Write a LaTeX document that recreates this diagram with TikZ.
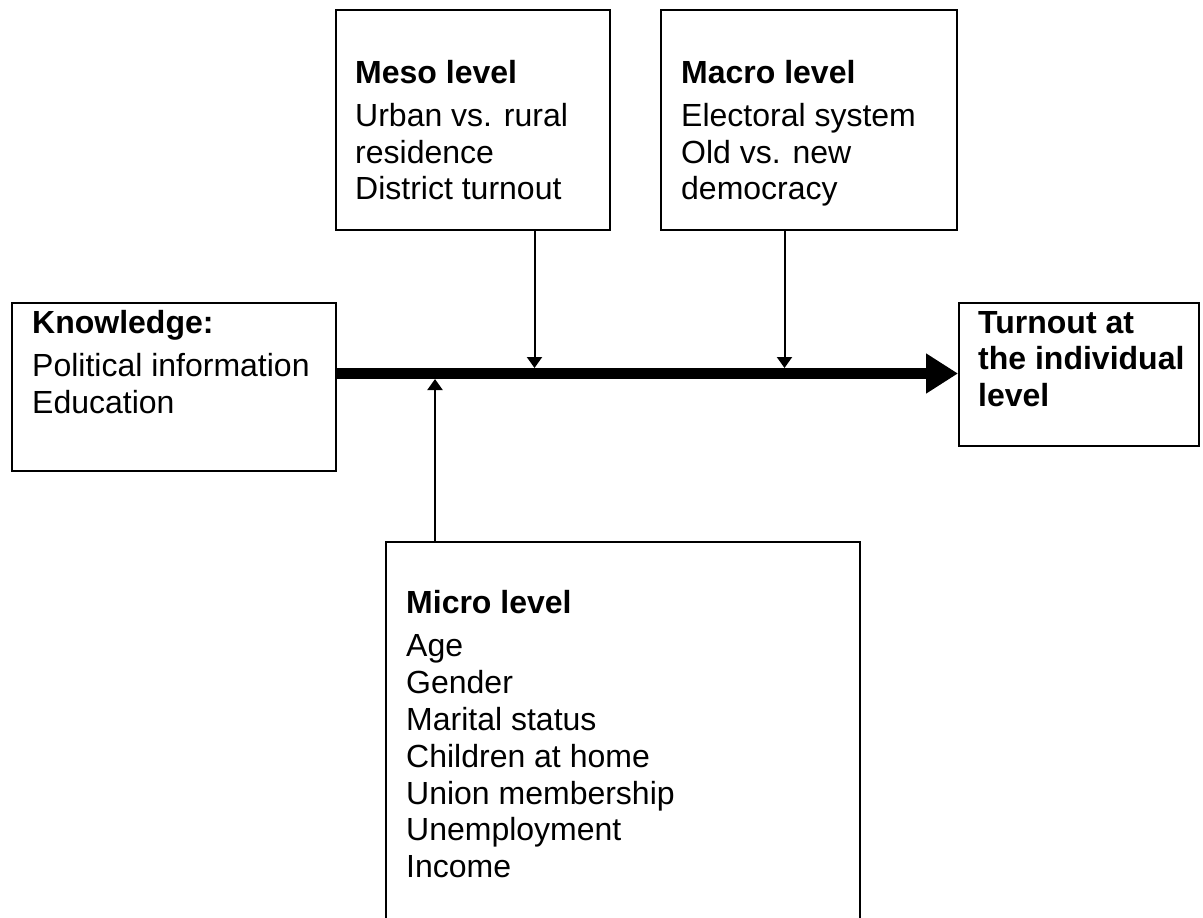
\documentclass[tikz,border=0pt]{standalone}
\usepackage{fontspec}
\setmainfont{Liberation Sans}
\usetikzlibrary{arrows.meta}
\tikzset{
  box/.style={draw=black, line width=2pt, fill=none, inner sep=0pt, anchor=north west},
  txt/.style={inner sep=0pt, anchor=base west, font=\fontsize{32}{36.8}\selectfont},
  thinarrow/.style={line width=2pt, -{Triangle[length=11pt,width=15pt]}},
  mainarrow/.style={line width=11pt, -{Triangle[length=32pt,width=38pt]}}
}
\begin{document}
\begin{tikzpicture}[x=1pt,y=-1pt]
\useasboundingbox (0,0) rectangle (1203,918);
\clip (0,0) rectangle (1203,918);
% boxes
\node[box, minimum width=274pt, minimum height=220pt] (meso) at (335,9) {};
\node[box, minimum width=296pt, minimum height=220pt] (macro) at (660,9) {};
\node[box, minimum width=324pt, minimum height=168pt] (know) at (11,302) {};
\node[box, minimum width=240pt, minimum height=143pt] (turn) at (958,302) {};
\node[box, minimum width=474pt, minimum height=400pt] (micro) at (385,541) {};
% texts
\node[txt] (mesotext) at (355,83) {\begin{tabular}[t]{@{}l@{}}\textbf{Meso level}\\[6.5pt] Urban vs. rural\\ residence\\ District turnout\end{tabular}};
\node[txt] (macrotext) at (681,83) {\begin{tabular}[t]{@{}l@{}}\textbf{Macro level}\\[6.5pt] Electoral system\\ Old vs. new\\ democracy\end{tabular}};
\node[txt] (knowtext) at (32,333) {\begin{tabular}[t]{@{}l@{}}\textbf{Knowledge:}\\[6.5pt] Political information\\ Education\end{tabular}};
\node[txt] (turntext) at (978,333) {\begin{tabular}[t]{@{}l@{}}\textbf{Turnout at}\\ \textbf{the individual}\\ \textbf{level}\end{tabular}};
\node[txt] (microtext) at (406,613) {\begin{tabular}[t]{@{}l@{}}\textbf{Micro level}\\[7pt] Age\\ Gender\\ Marital status\\ Children at home\\ Union membership\\ Unemployment\\ Income\end{tabular}};
% junction points on the main arrow
\coordinate (mainstart) at (335,373.5);
\coordinate (jmeso) at (534.5,368);
\coordinate (jmacro) at (784.5,368);
\coordinate (jmicro) at (435,379);
% connectors
\draw[mainarrow] (mainstart) -- (mainstart -| turn.west);
\draw[thinarrow] (meso.south -| jmeso) -- (jmeso);
\draw[thinarrow] (macro.south -| jmacro) -- (jmacro);
\draw[thinarrow] (micro.north -| jmicro) -- (jmicro);
\end{tikzpicture}
\end{document}
